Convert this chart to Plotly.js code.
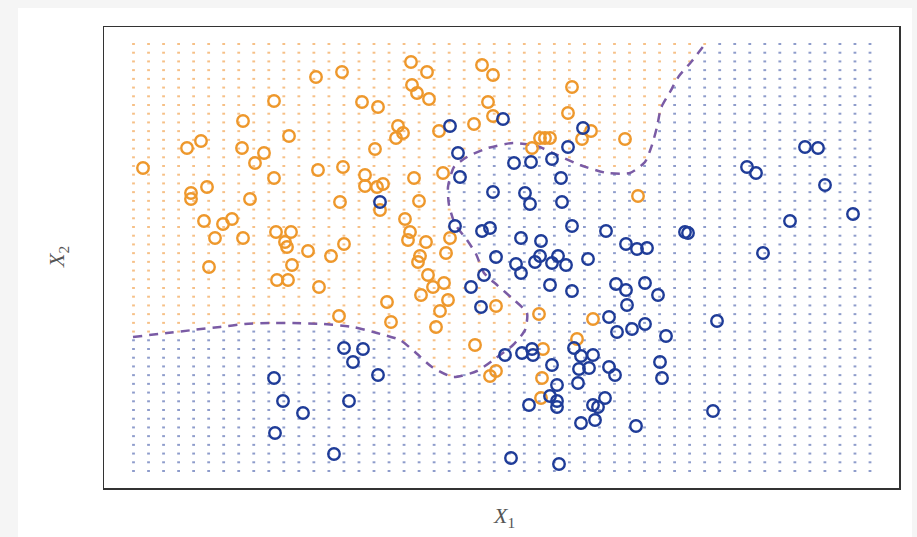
<!DOCTYPE html>
<html>
<head>
<meta charset="utf-8">
<script src="https://cdn.plot.ly/plotly-3.0.1.min.js"></script>
<style>
html,body{margin:0;padding:0;background:#f5f5f5;}
#chart{width:917px;height:537px;}
</style>
</head>
<body>
<div id="chart"></div>
<script>
const orangeX = [212,238,170,258,274,139,185,271,83,97,138,160,151,39,214,239,261,261,273,279,170,103,87,87,146,236,276,100,119,128,111,139,172,187,181,183,204,227,240,307,323,378,389,308,313,325,384,468,464,389,370,294,299,292,335,436,441,446,478,487,521,428,339,310,315,301,306,304,322,346,316,342,534,314,324,329,340,317,344,336,283,287,332,392,435,489,371,473,439,392,386,438,437,105,173,184,188,215,235];
const orangeY = [411,416,387,386,381,367,352,339,340,347,340,335,325,320,318,321,313,302,301,304,310,301,295,289,289,286,278,267,264,269,250,250,256,256,246,241,237,232,244,426,416,423,413,403,395,389,386,401,375,372,364,362,355,350,357,350,350,350,349,357,349,340,315,310,287,269,256,248,246,250,232,235,292,226,213,201,205,193,188,177,186,166,161,182,174,169,143,149,139,117,112,110,90,221,208,208,223,201,172];

const blueX = [276,346,399,479,464,354,410,427,448,356,457,389,421,426,458,351,378,386,468,502,417,437,522,533,543,581,392,436,454,484,701,714,643,652,721,749,686,584,659,412,417,431,448,462,380,367,446,468,512,522,541,554,523,377,505,513,528,541,562,613,401,418,428,429,470,477,489,448,475,485,505,511,556,558,453,474,446,453,453,425,489,494,501,477,491,532,609,407,455,240,259,249,274,170,179,199,245,171,230];
const blueY = [286,362,369,360,341,335,325,326,329,311,310,296,295,284,286,262,257,260,262,257,250,247,244,239,240,256,231,232,232,229,341,340,321,315,303,274,267,255,235,224,215,226,225,223,213,201,203,197,204,198,205,193,183,181,171,156,159,164,152,167,133,135,139,133,140,132,133,123,119,120,121,113,126,110,103,105,92,87,81,83,83,81,90,65,68,62,77,30,24,140,139,126,113,110,87,75,87,55,34];

// Bayes decision boundary (dashed curve)
const boundaryX = [29,63,89,116,141,166,189,219,249,273,296,311,328,349,373,392,409,421,423,409,393,380,372,363,351,345,344,350,363,384,409,433,453,476,503,526,541,548,553,557,566,575,588,601];
const boundaryY = [151,155,158,161,164,165,165,164,161,155,148,136,121,111,117,130,143,158,175,189,203,215,234,248,264,283,301,321,331,340,345,342,333,323,315,315,326,343,361,380,396,412,427,444];

// Prediction grid extent and size
const gridN = 50;
const gridXMin = 29.5, gridXMax = 766;
const gridYMin = 17, gridYMax = 444;

const ORANGE = '#EE982C';
const BLUE = '#1F3C98';

// Orange region polygon: boundary closed through top-left corner
const poly = boundaryX.map((x,i)=>[x,boundaryY[i]]);
poly.push([boundaryX[boundaryX.length-1], gridYMax+20]);
poly.push([gridXMin-20, gridYMax+20]);
poly.push([gridXMin-20, boundaryY[0]]);
function inside(px,py){
  let c=false;
  for(let i=0,j=poly.length-1;i<poly.length;j=i++){
    const xi=poly[i][0], yi=poly[i][1], xj=poly[j][0], yj=poly[j][1];
    if(((yi>py)!==(yj>py)) && (px < (xj-xi)*(py-yi)/(yj-yi)+xi)) c=!c;
  }
  return c;
}
const gox=[],goy=[],gbx=[],gby=[];
for(let i=0;i<gridN;i++){
  const gx = gridXMin + (gridXMax-gridXMin)*i/(gridN-1);
  for(let j=0;j<gridN;j++){
    const gy = gridYMin + (gridYMax-gridYMin)*j/(gridN-1);
    if(inside(gx,gy)){gox.push(gx);goy.push(gy);} else {gbx.push(gx);gby.push(gy);}
  }
}

const traces = [
  {x:gox,y:goy,type:'scatter',mode:'markers',hoverinfo:'skip',
   marker:{symbol:'line-ew',size:2,color:'rgba(240,150,55,0.6)',line:{width:2,color:'rgba(240,150,55,0.6)'}}},
  {x:gbx,y:gby,type:'scatter',mode:'markers',hoverinfo:'skip',
   marker:{symbol:'line-ew',size:2,color:'rgba(50,75,160,0.55)',line:{width:2,color:'rgba(50,75,160,0.55)'}}},
  {x:boundaryX,y:boundaryY,type:'scatter',mode:'lines',hoverinfo:'skip',
   line:{color:'#7A5BA5',width:2.5,dash:'9px,7px',shape:'spline',smoothing:0.6}},
  {x:orangeX,y:orangeY,type:'scatter',mode:'markers',
   marker:{symbol:'circle-open',size:11.5,color:ORANGE,line:{width:2.4,color:ORANGE}}},
  {x:blueX,y:blueY,type:'scatter',mode:'markers',
   marker:{symbol:'circle-open',size:11.5,color:BLUE,line:{width:2.4,color:BLUE}}}
];

const W=917,H=537,L=104,R=18,T=27,B=49;
const pw=W-L-R, ph=H-T-B;
const layout = {
  width:W,height:H,
  margin:{l:L,r:R,t:T,b:B,pad:0},
  paper_bgcolor:'#f5f5f5',
  plot_bgcolor:'#ffffff',
  showlegend:false,
  xaxis:{range:[0,795],showgrid:false,zeroline:false,showticklabels:false,ticks:'',
         showline:true,mirror:true,linecolor:'#333',linewidth:1.5,fixedrange:true},
  yaxis:{range:[0,461],showgrid:false,zeroline:false,showticklabels:false,ticks:'',
         showline:true,mirror:true,linecolor:'#333',linewidth:1.5,fixedrange:true},
  shapes:[{type:'rect',xref:'paper',yref:'paper',layer:'below',
    x0:(18-L)/pw,x1:(912-L)/pw,y0:(H-B-537)/ph,y1:(H-B-8)/ph,
    fillcolor:'#ffffff',line:{width:0}}],
  annotations:[
    {xref:'paper',yref:'paper',x:(504-L)/pw,y:(H-B-517)/ph,xanchor:'center',yanchor:'middle',
     text:'<i>X</i><sub>1</sub>',
     showarrow:false,font:{family:'Liberation Serif, DejaVu Serif, serif',size:22,color:'#555'}},
    {xref:'paper',yref:'paper',x:(58-L)/pw,y:(H-B-257)/ph,xanchor:'center',yanchor:'middle',
     text:'<i>X</i><sub>2</sub>',textangle:-90,
     showarrow:false,font:{family:'Liberation Serif, DejaVu Serif, serif',size:22,color:'#555'}}
  ]
};

Plotly.newPlot('chart',traces,layout,{displayModeBar:false,staticPlot:true});
</script>
</body>
</html>
